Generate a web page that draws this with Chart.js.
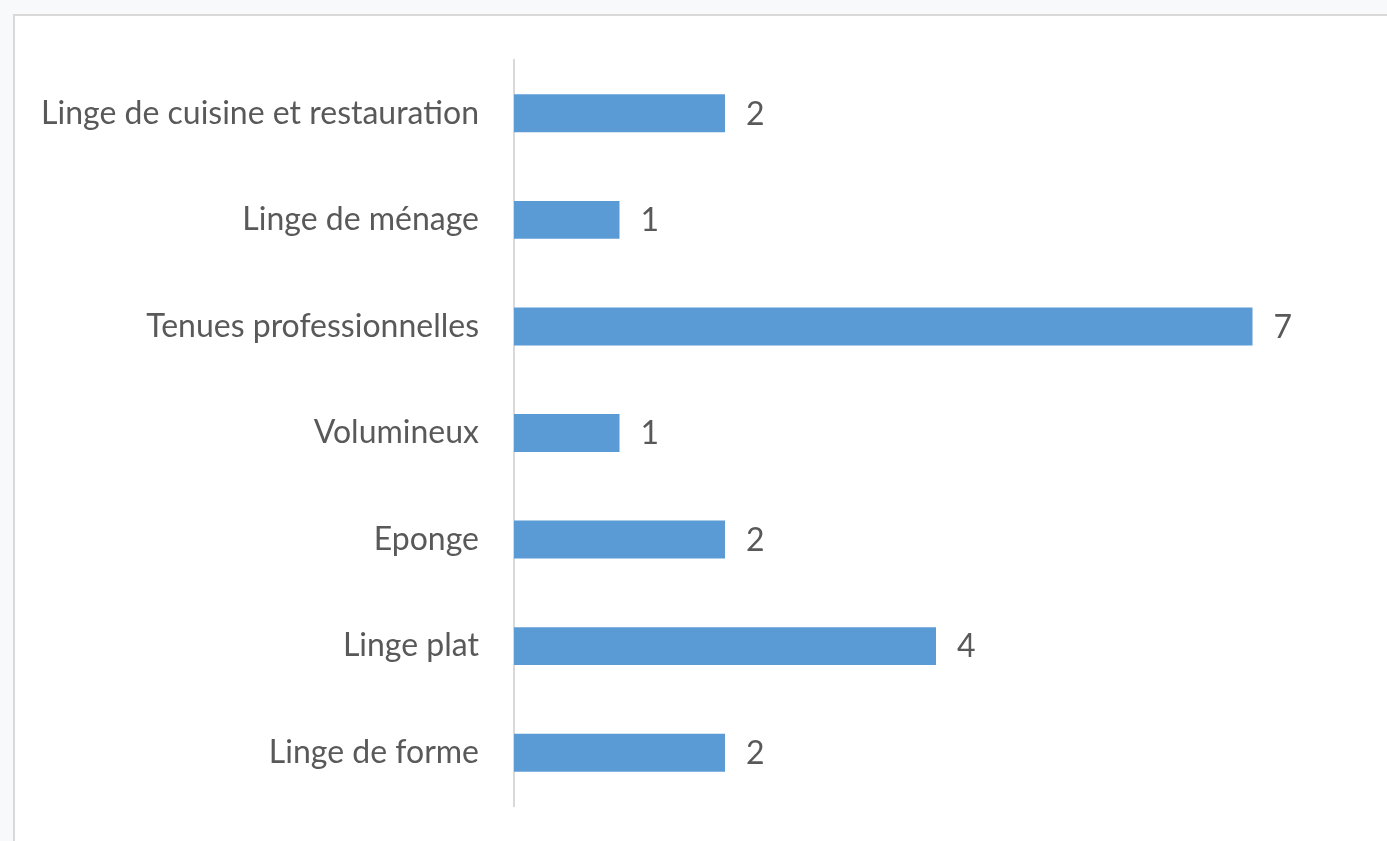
<!DOCTYPE html>
<html>
<head>
<meta charset="utf-8">
<script src="https://cdn.jsdelivr.net/npm/chart.js@4.4.1/dist/chart.umd.min.js"></script>
<style>
  html, body { margin: 0; padding: 0; background: #f8f9fb; }
  #frame { position: absolute; left: 13px; top: 14px; width: 1374px; height: 827px;
           background: #ffffff; border-left: 2px solid #d9d9d9; border-top: 2px solid #d9d9d9; }
  #wrap { position: absolute; left: 0; top: 0; width: 1387px; height: 841px; }
</style>
</head>
<body>
<div id="frame"></div>
<div id="wrap"><canvas id="c" width="1387" height="841"></canvas></div>
<script>
const categories = [
  "Linge de cuisine et restauration",
  "Linge de ménage",
  "Tenues professionnelles",
  "Volumineux",
  "Eponge",
  "Linge plat",
  "Linge de forme"
];
const values = [2, 1, 7, 1, 2, 4, 2];
const xMin = 0;
const xMax = 8;

const FONT = "Lato, 'Open Sans', sans-serif";
const TEXT = "#595959";

const valueLabels = {
  id: "valueLabels",
  afterDatasetsDraw(chart) {
    const ctx = chart.ctx;
    const meta = chart.getDatasetMeta(0);
    ctx.save();
    ctx.font = "32px " + FONT;
    ctx.fillStyle = TEXT;
    ctx.textAlign = "left";
    ctx.textBaseline = "middle";
    meta.data.forEach((bar, i) => {
      ctx.fillText(String(values[i]), bar.x + 21, bar.y + 1);
    });
    ctx.restore();
  }
};

new Chart(document.getElementById("c"), {
  type: "bar",
  data: {
    labels: categories,
    datasets: [{
      data: values,
      backgroundColor: "#5b9bd5",
      borderWidth: 0,
      barPercentage: 0.356,
      categoryPercentage: 1.0
    }]
  },
  plugins: [valueLabels],
  options: {
    indexAxis: "y",
    responsive: false,
    animation: false,
    layout: { padding: { top: 60, bottom: 35, right: 29, left: 0 } },
    plugins: { legend: { display: false }, tooltip: { enabled: false } },
    scales: {
      x: { display: false, min: xMin, max: xMax },
      y: {
        afterFit(scale) { scale.width = 514; scale.paddingTop = 0; scale.paddingBottom = 0; },
        grid: { display: false, drawTicks: false },
        border: { display: true, color: "#d9d9d9", width: 2 },
        ticks: { color: TEXT, font: { family: FONT, size: 32 }, padding: 35 }
      }
    }
  }
});
</script>
</body>
</html>
